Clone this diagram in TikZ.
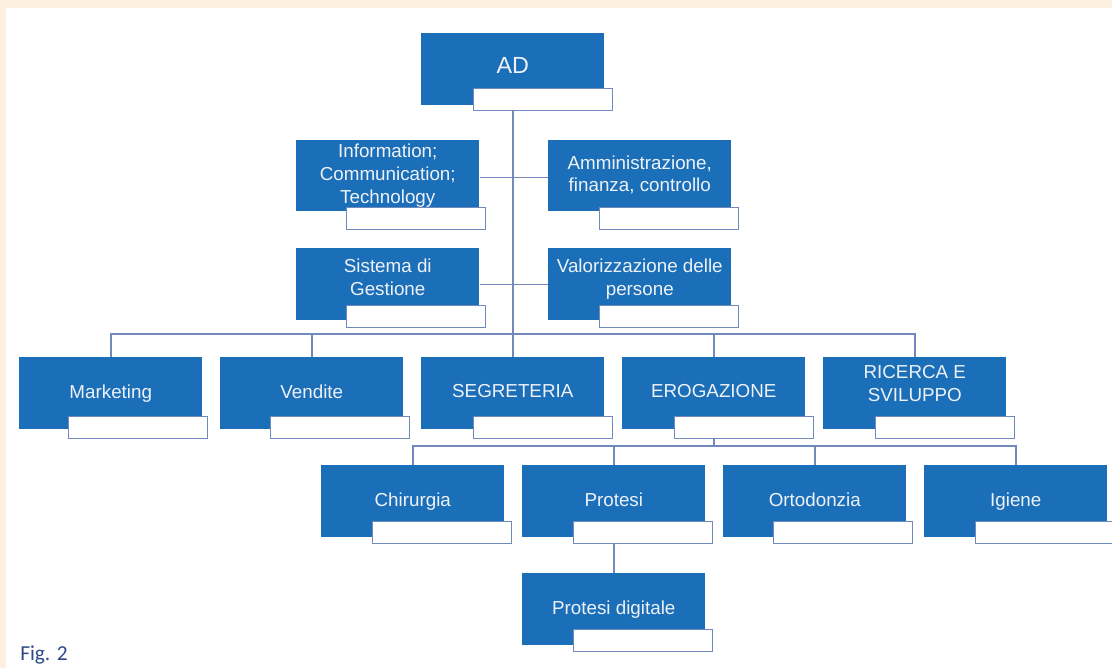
\documentclass[tikz,border=0pt]{standalone}
\usepackage{fontspec}
\setmainfont{Liberation Sans}
\newfontfamily\figfont{Carlito}
\definecolor{boxblue}{HTML}{1B6EB8}
\definecolor{linec}{HTML}{7189BD}
\definecolor{cream}{HTML}{FDF0E0}
\definecolor{figblue}{HTML}{2E4A87}
\definecolor{txt}{HTML}{EEF2F7}
% lift the text block of a node by half of #1
\newcommand{\liftby}[1]{\rule[-#1]{0pt}{#1}}
\tikzset{
  bluebox/.style={rectangle, anchor=north west, fill=boxblue, draw=none, inner sep=0pt,
    minimum width=137.25pt, minimum height=54pt, text=txt, align=center,
    font=\fontsize{14.1}{17}\selectfont},
  whitebox/.style={rectangle, anchor=north west, fill=white, draw=linec, line width=0.8pt,
    inner sep=0pt, minimum width=104.25pt, minimum height=16.5pt},
  conn/.style={draw=linec, line width=1.1pt}
}
\begin{document}
\begin{tikzpicture}[x=0.75pt,y=-0.75pt]
\useasboundingbox (0,0) rectangle (1112,668);
\fill[cream] (0,0) rectangle (1112,668);
\fill[white] (6,8) rectangle (1112,668);
% coordinates for buses
\coordinate (r3) at (512,334);
\coordinate (r4) at (512,446);
% blue boxes
\node[bluebox, font=\fontsize{17.5}{20}\selectfont] (ad) at (421,33) {AD\liftby{6pt}};
\node[bluebox, minimum height=53.25pt] (ict) at (296,140) {Information;\\Communication;\\Technology\liftby{2pt}};
\node[bluebox, minimum height=53.25pt] (amm) at (548,140) {Amministrazione,\\finanza, controllo\liftby{3pt}};
\node[bluebox] (sis) at (296,248) {Sistema di\\Gestione\liftby{10.5pt}};
\node[bluebox] (val) at (548,248) {Valorizzazione delle\\persone\liftby{10.5pt}};
\node[bluebox] (mkt) at (19,357) {Marketing\liftby{3pt}};
\node[bluebox] (ven) at (220,357) {Vendite\liftby{3pt}};
\node[bluebox] (seg) at (421,357) {SEGRETERIA\liftby{3pt}};
\node[bluebox] (ero) at (622,357) {EROGAZIONE\liftby{3pt}};
\node[bluebox] (ric) at (823,357) {RICERCA E\\SVILUPPO\liftby{15pt}};
\node[bluebox] (chi) at (321,465) {Chirurgia\liftby{3pt}};
\node[bluebox] (pro) at (522,465) {Protesi\liftby{3pt}};
\node[bluebox] (ort) at (723,465) {Ortodonzia\liftby{3pt}};
\node[bluebox] (igi) at (924,465) {Igiene\liftby{3pt}};
\node[bluebox] (pdig) at (522,573) {Protesi digitale\liftby{3pt}};
% white boxes
\node[whitebox] (adw) at (473,88) {};
\node[whitebox] (ictw) at (346,207) {};
\node[whitebox] (ammw) at (599,207) {};
\node[whitebox] (sisw) at (346,305) {};
\node[whitebox] (valw) at (599,305) {};
\node[whitebox] (mktw) at (68,416) {};
\node[whitebox] (venw) at (270,416) {};
\node[whitebox] (segw) at (473,416) {};
\node[whitebox] (erow) at (674,416) {};
\node[whitebox] (ricw) at (875,416) {};
\node[whitebox] (chiw) at (372,521) {};
\node[whitebox] (prow) at (573,521) {};
\node[whitebox] (ortw) at (773,521) {};
\node[whitebox] (igiw) at (975,521) {};
\node[whitebox] (pdigw) at (573,629) {};
% connectors
\draw[conn] (ad.center |- adw.south) -- (seg.north);
\draw[conn] ([yshift=-1.1pt]ict.east) -- ([yshift=-1.1pt]amm.west);
\draw[conn] (sis.east) -- (val.west);
\draw[conn] (mkt.north) |- (ric.north |- r3) -- (ric.north);
\draw[conn] (ven.north) -- (ven.north |- r3);
\draw[conn] (ero.north) -- (ero.north |- r3);
\draw[conn] (ero.center |- erow.south) -- (ero.center |- r4);
\draw[conn] (chi.north) |- (igi.north |- r4) -- (igi.north);
\draw[conn] (pro.north) -- (pro.north |- r4);
\draw[conn] (ort.north) -- (ort.north |- r4);
\draw[conn] (pro.center |- prow.south) -- (pdig.north);
% caption
\node[anchor=base west, text=figblue, font=\figfont\fontsize{16}{18}\selectfont, inner sep=0pt] (fig) at (20,660) {Fig. 2};
\end{tikzpicture}
\end{document}
